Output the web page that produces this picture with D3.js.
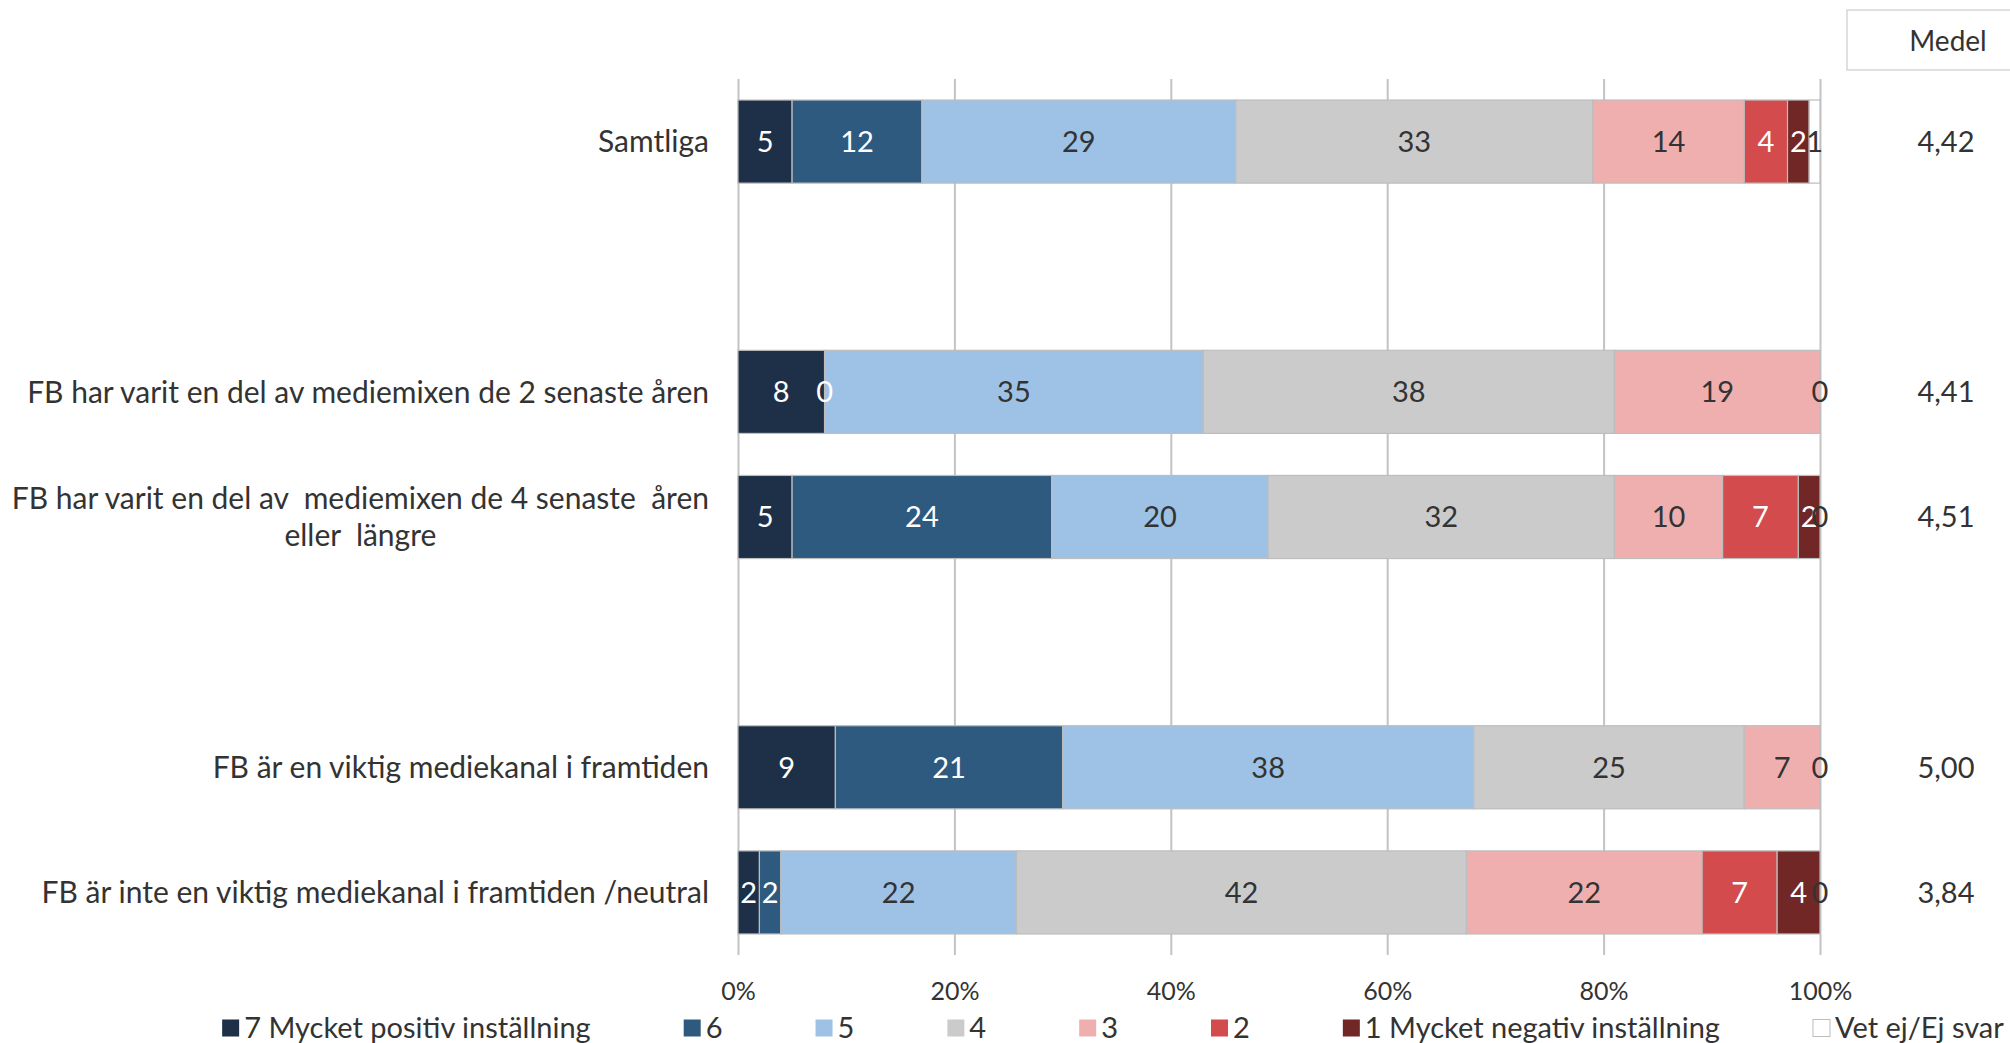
<!DOCTYPE html>
<html>
<head>
<meta charset="utf-8">
<script src="https://cdn.jsdelivr.net/npm/d3@7"></script>
<style>
  html, body { margin: 0; padding: 0; background: #fff; overflow: hidden; }
  svg { display: block; font-family: Lato, "Open Sans", sans-serif; }
</style>
</head>
<body>
<svg id="chart" width="2010" height="1043"></svg>
<script>
// ---------- DATA ----------
const categories = [
  "Samtliga",
  "",
  "FB har varit en del av mediemixen de 2 senaste åren",
  "FB har varit en del av  mediemixen de 4 senaste  åren|eller  längre",
  "",
  "FB är en viktig mediekanal i framtiden",
  "FB är inte en viktig  mediekanal i framtiden /neutral"
];
const seriesNames = [
  "7 Mycket positiv inställning", "6", "5", "4", "3", "2",
  "1 Mycket negativ inställning", "Vet ej/Ej svar"
];
const s7   = [5,  null, 8,  5,  null, 9,  2];
const s6   = [12, null, 0,  24, null, 21, 2];
const s5   = [29, null, 35, 20, null, 38, 22];
const s4   = [33, null, 38, 32, null, 25, 42];
const s3   = [14, null, 19, 10, null, 7,  22];
const s2   = [4,  null, null, 7, null, null, 7];
const s1   = [2,  null, null, 2, null, null, 4];
const sVet = [1,  null, 0,  0,  null, 0,  0];
const medel = [4.42, null, 4.41, 4.51, null, 5.00, 3.84];
const xTicks = [0, 0.2, 0.4, 0.6, 0.8, 1.0];

const seriesValues = [s7, s6, s5, s4, s3, s2, s1, sVet];
const colors = ["#1d3048", "#2e5a80", "#9dc2e6", "#cbcbcb", "#efafaf", "#d34b4c", "#722727", "#ffffff"];
const labelColors = ["#fff", "#fff", "#333", "#333", "#333", "#fff", "#fff", "#333"];

// ---------- BUILD TABLE ----------
const keys = seriesNames.map((d, i) => "k" + i);
const rows = categories.map((c, ci) => {
  const r = { idx: ci, cat: c };
  keys.forEach((k, si) => r[k] = seriesValues[si][ci]);
  return r;
});

const stack = d3.stack()
  .keys(keys)
  .value((d, k) => d[k] == null ? 0 : d[k])
  .offset(d3.stackOffsetExpand);
const stacked = stack(rows);

// ---------- SCALES ----------
const svg = d3.select("#chart");
const plot = { left: 738, right: 1820, top: 79, bottom: 955 };
const x = d3.scaleLinear().domain([0, 1]).range([plot.left, plot.right]);
const y = d3.scaleBand().domain(d3.range(categories.length))
  .range([plot.top, plot.bottom]).paddingInner(0.336).paddingOuter(0.168);

const fmtPct = d3.format(".0%");
const sv = d3.formatLocale({ decimal: ",", thousands: " ", grouping: [3], currency: ["", " kr"] });
const fmtMedel = sv.format(".2f");

// ---------- GRID ----------
const grid = svg.append("g").attr("transform", `translate(0,${plot.bottom})`)
  .call(d3.axisBottom(x).tickValues(xTicks).tickSize(-(plot.bottom - plot.top)).tickFormat(""));
grid.select(".domain").remove();
grid.selectAll(".tick line").attr("stroke", "#c3c3c3").attr("stroke-width", 2);

// x axis labels
const xAxis = svg.append("g").attr("transform", `translate(0,${plot.bottom})`)
  .call(d3.axisBottom(x).tickValues(xTicks).tickSize(0).tickPadding(27).tickFormat(fmtPct));
xAxis.select(".domain").remove();
xAxis.selectAll("text").attr("font-size", 25).attr("fill", "#333").attr("font-family", "Lato, sans-serif");

// ---------- BARS ----------
const layers = svg.append("g").selectAll("g.layer").data(stacked).join("g")
  .attr("class", "layer")
  .attr("fill", (d, i) => colors[i]);

layers.selectAll("rect")
  .data(d => d.map(p => ({ p, row: p.data, key: d.key })))
  .join("rect")
  .filter(d => d.row[d.key] != null && d.row[d.key] > 0)
  .attr("x", d => x(d.p[0]))
  .attr("width", d => x(d.p[1]) - x(d.p[0]))
  .attr("y", d => y(d.row.idx))
  .attr("height", y.bandwidth())
  .attr("stroke", "#bdbdbd")
  .attr("stroke-width", 1.2);

// segment labels
const labels = svg.append("g");
stacked.forEach((layer, si) => {
  layer.forEach(p => {
    const v = p.data[layer.key];
    if (v == null) return;
    labels.append("text")
      .attr("x", x((p[0] + p[1]) / 2))
      .attr("y", y(p.data.idx) + y.bandwidth() / 2)
      .attr("dy", "0.36em")
      .attr("text-anchor", "middle")
      .attr("font-size", 29)
      .attr("fill", labelColors[si])
      .text(d3.format("d")(v));
  });
});

// ---------- CATEGORY LABELS ----------
const catG = svg.append("g");
const catFont = 30;
rows.forEach(r => {
  if (!r.cat) return;
  const lines = r.cat.split("|");
  const cy = y(r.idx) + y.bandwidth() / 2;
  if (lines.length === 1) {
    catG.append("text").attr("x", 709).attr("y", cy).attr("dy", "0.36em")
      .attr("text-anchor", "end").attr("font-size", catFont).attr("fill", "#333").text(lines[0]);
  } else {
    const lh = 37;
    const t1 = catG.append("text").attr("x", 709).attr("y", cy - lh / 2).attr("dy", "0.36em")
      .attr("text-anchor", "end").attr("font-size", catFont).attr("fill", "#333")
      .style("white-space", "pre").attr("xml:space", "preserve").text(lines[0]);
    const w = t1.node().getComputedTextLength();
    catG.append("text").attr("x", 709 - w / 2).attr("y", cy + lh / 2).attr("dy", "0.36em")
      .attr("text-anchor", "middle").attr("font-size", catFont).attr("fill", "#333")
      .style("white-space", "pre").attr("xml:space", "preserve").text(lines[1]);
  }
});

// ---------- MEDEL ----------
svg.append("rect").attr("x", 1847).attr("y", 10).attr("width", 175).attr("height", 60)
  .attr("fill", "#fff").attr("stroke", "#d6d6d6").attr("stroke-width", 1.5);
svg.append("text").attr("x", 1948).attr("y", 41).attr("dy", "0.36em").attr("text-anchor", "middle")
  .attr("font-size", 28).attr("fill", "#333").text("Medel");
svg.append("g").selectAll("text").data(rows.filter(r => medel[r.idx] != null)).join("text")
  .attr("x", 1946).attr("y", r => y(r.idx) + y.bandwidth() / 2).attr("dy", "0.36em")
  .attr("text-anchor", "middle").attr("font-size", 29).attr("fill", "#333")
  .text(r => fmtMedel(medel[r.idx]));

// ---------- LEGEND ----------
const legend = svg.append("g");
const sq = 17, sqGap = 5, itemGap = 93;
let lx = 0;
const items = [];
seriesNames.forEach((name, i) => {
  const g = legend.append("g");
  g.append("rect").attr("x", 0).attr("y", -sq / 2).attr("width", sq).attr("height", sq)
    .attr("fill", colors[i]).attr("stroke", i === 7 ? "#bdbdbd" : "none");
  const t = g.append("text").attr("x", sq + sqGap).attr("y", 0).attr("dy", "0.36em")
    .attr("font-size", 29).attr("fill", "#333").text(name);
  const w = sq + sqGap + t.node().getComputedTextLength();
  items.push({ g, x: lx });
  lx += w + itemGap;
});
const totalW = lx - itemGap;
const startX = 1113 - totalW / 2;
items.forEach(it => it.g.attr("transform", `translate(${startX + it.x},1028)`));
</script>
</body>
</html>
